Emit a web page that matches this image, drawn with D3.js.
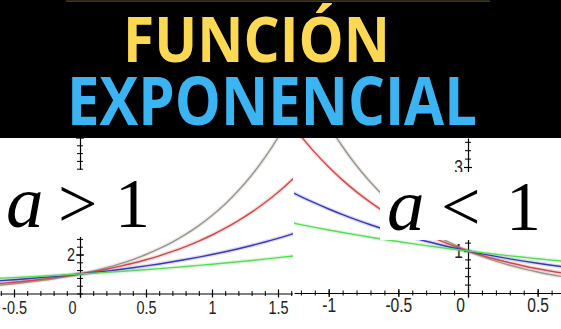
<!DOCTYPE html>
<html>
<head>
<meta charset="utf-8">
<script src="https://cdn.jsdelivr.net/npm/d3@7/dist/d3.min.js"></script>
<style>
html,body{margin:0;padding:0;background:#fff;}
svg{display:block;}
</style>
</head>
<body>
<svg id="c" width="561" height="329"></svg>
<script>
// ---------- DATA ----------
const titleTop = "FUNCIÓN";
const titleBottom = "EXPONENCIAL";
const labelLeft = ["a", ">", "1"];
const labelRight = ["a", "<", "1"];

// left panel (a > 1): sampled curve values
const leftX   = [-0.7,-0.6,-0.5,-0.4,-0.3,-0.2,-0.1,0,0.1,0.2,0.3,0.4,0.5,0.6,0.7,0.8,0.9,1.0,1.1,1.2,1.3,1.4,1.5,1.6,1.7];
const leftA4  = [0.379,0.435,0.5,0.574,0.660,0.758,0.871,1,1.149,1.320,1.516,1.741,2,2.297,2.639,3.031,3.482,4,4.595,5.278,6.063,6.964,8,9.190,10.556];
const leftA3  = [0.464,0.517,0.577,0.644,0.719,0.803,0.896,1,1.116,1.246,1.390,1.552,1.732,1.933,2.158,2.408,2.688,3,3.348,3.737,4.171,4.656,5.196,5.800,6.473];
const leftA2  = [0.616,0.660,0.707,0.758,0.812,0.871,0.933,1,1.072,1.149,1.231,1.320,1.414,1.516,1.625,1.741,1.866,2,2.144,2.297,2.462,2.639,2.828,3.031,3.249];
const leftA15 = [0.753,0.784,0.816,0.850,0.885,0.922,0.960,1,1.041,1.084,1.129,1.176,1.225,1.275,1.328,1.383,1.440,1.5,1.562,1.627,1.694,1.764,1.837,1.913,1.992];
const leftXTicks = [-0.5,0,0.5,1,1.5];
const leftYTicks = [2,4,6,8];
const leftYLabels = [2];

// right panel (a < 1): sampled curve values
const rightX   = [-1.3,-1.2,-1.1,-1.0,-0.9,-0.8,-0.7,-0.6,-0.5,-0.4,-0.3,-0.2,-0.1,0,0.1,0.2,0.3,0.4,0.5,0.6,0.7];
const rightA14 = [6.063,5.278,4.595,4,3.482,3.031,2.639,2.297,2,1.741,1.516,1.320,1.149,1,0.871,0.758,0.660,0.574,0.5,0.435,0.379];
const rightA13 = [4.171,3.737,3.348,3,2.688,2.408,2.158,1.933,1.732,1.552,1.390,1.246,1.116,1,0.896,0.803,0.719,0.644,0.577,0.517,0.464];
const rightA12 = [2.462,2.297,2.144,2,1.866,1.741,1.625,1.516,1.414,1.320,1.231,1.149,1.072,1,0.933,0.871,0.812,0.758,0.707,0.660,0.616];
const rightA23 = [1.694,1.627,1.562,1.5,1.440,1.383,1.328,1.275,1.225,1.176,1.129,1.084,1.041,1,0.960,0.922,0.885,0.850,0.816,0.784,0.753];
const rightXTicks = [-1,-0.5,0,0.5];
const rightYTicks = [1,2,3];
const rightYLabels = [1,3];

const colors = {gray:"#9a948c", red:"#d04848", blue:"#3838b8", green:"#58dc58"};

// ---------- DRAW ----------
const svg = d3.select("#c");
svg.append("rect").attr("width",561).attr("height",329).attr("fill","#fff");
const defs = svg.append("defs");
const fmt = d => String(d);

function panel(cfg){
  const g = svg.append("g");
  const clipId = "clip"+cfg.id;
  defs.append("clipPath").attr("id",clipId).append("rect")
    .attr("x",cfg.px0).attr("y",138).attr("width",cfg.px1-cfg.px0).attr("height",329-138);
  const inner = g.append("g").attr("clip-path",`url(#${clipId})`);
  const x = d3.scaleLinear().domain(cfg.xDom).range([cfg.px0,cfg.px1]);
  const y = d3.scaleLinear().domain(cfg.yDom).range(cfg.yRange);

  // minor x ticks
  const xMinor = d3.range(Math.ceil(cfg.xDom[0]*10), Math.floor(cfg.xDom[1]*10)+1).map(v=>v/10);
  const gxm = inner.append("g").attr("transform",`translate(0,${y(0)})`)
    .call(d3.axisBottom(x).tickValues(xMinor).tickSizeOuter(0).tickFormat(""));
  gxm.select(".domain").remove();
  gxm.selectAll(".tick line").attr("y1",-2.5).attr("y2",2.5).attr("stroke","#000");

  // major x axis
  const gx = inner.append("g").attr("transform",`translate(0,${y(0)})`)
    .call(d3.axisBottom(x).tickValues(cfg.xTicks).tickSizeOuter(0).tickFormat(fmt));
  gx.select(".domain").attr("stroke","#000").attr("stroke-width",1.2);
  gx.selectAll(".tick line").attr("y1",-4).attr("y2",4).attr("stroke","#000").attr("stroke-width",1.2);
  gx.selectAll(".tick text")
    .attr("font-family","'Liberation Sans', Arial, sans-serif")
    .attr("font-size",cfg.fs).attr("fill","#222")
    .attr("y",cfg.labOff).attr("dy","0.71em")
    .attr("transform","scale(0.8,1)")
    .attr("x",d=>d===0? -8/0.8 : 0);

  // minor y ticks
  const yMinor = d3.range(0, cfg.yDom[1], cfg.yMinorStep);
  const gym = inner.append("g").attr("transform",`translate(${x(0)},0)`)
    .call(d3.axisLeft(y).tickValues(yMinor).tickSizeOuter(0).tickFormat(""));
  gym.select(".domain").remove();
  gym.selectAll(".tick line").attr("x1",-3).attr("x2",3).attr("stroke","#000");

  const gy = inner.append("g").attr("transform",`translate(${x(0)},0)`)
    .call(d3.axisLeft(y).tickValues(cfg.yTicks).tickSizeOuter(0)
      .tickFormat(d => cfg.yLabels.includes(d) ? fmt(d) : ""));
  gy.select(".domain").attr("stroke","#000").attr("stroke-width",1.2);
  gy.selectAll(".tick line").attr("x1",-4).attr("x2",4).attr("stroke","#000").attr("stroke-width",1.2);
  gy.selectAll(".tick text")
    .attr("font-family","'Liberation Sans', Arial, sans-serif")
    .attr("font-size",cfg.fs).attr("fill","#222")
    .attr("x",-5/0.8).attr("transform","scale(0.8,1)");

  const line = d3.line().x((d,i)=>x(cfg.xs[i])).y(d=>y(d)).curve(d3.curveMonotoneX);
  cfg.series.forEach(s=>{
    inner.append("path").attr("d",line(s.v)).attr("fill","none")
      .attr("stroke",s.c).attr("stroke-opacity",0.18).attr("stroke-width",4);
  });
  cfg.series.forEach(s=>{
    inner.append("path").attr("d",line(s.v)).attr("fill","none")
      .attr("stroke",s.c).attr("stroke-width",1.4);
  });
  return g;
}

panel({
  id:"L", px0:0, px1:293, xDom:[-80/132, 213/132], xs:leftX,
  yDom:[-0.18, 8], yRange:[293.5+0.18*19.5, 293.5-8*19.5],
  xTicks:leftXTicks, yTicks:leftYTicks, yLabels:leftYLabels, yMinorStep:0.4, fs:18, labOff:8,
  series:[{v:leftA4,c:colors.gray},{v:leftA3,c:colors.red},{v:leftA2,c:colors.blue},{v:leftA15,c:colors.green}]
});
panel({
  id:"R", px0:294, px1:561, xDom:[(294-468)/139.3,(561-468)/139.3], xs:rightX,
  yDom:[-0.1, 3.69], yRange:[293+0.1*42, 293-3.69*42],
  xTicks:rightXTicks, yTicks:rightYTicks, yLabels:rightYLabels, yMinorStep:0.2, fs:19.5, labOff:5,
  series:[{v:rightA14,c:colors.gray},{v:rightA13,c:colors.red},{v:rightA12,c:colors.blue},{v:rightA23,c:colors.green}]
});

// "a > 1" and "a < 1" labels with white boxes
function mathLabel(box, parts, pos, base, aSize){
  svg.append("rect").attr("x",box[0]).attr("y",box[1]).attr("width",box[2]).attr("height",box[3]).attr("fill","#fff");
  parts.forEach((t,i)=>{
    svg.append("text").text(t)
      .attr("x",pos[i]).attr("y",base)
      .attr("font-family","'Liberation Serif','Times New Roman',serif")
      .attr("font-style",i===0?"italic":"normal")
      .attr("font-size",i===0?aSize:70)
      .attr("fill","#000");
  });
}
mathLabel([0,170,146,67], labelLeft, [6,58,115], 227, 75);
mathLabel([380,172,165,68], labelRight, [387,441,506], 230, 75);

// black title band
svg.append("rect").attr("x",0).attr("y",0).attr("width",561).attr("height",138).attr("fill","#000");
svg.append("rect").attr("x",66).attr("y",0.6).attr("width",424).attr("height",1).attr("fill","#6b5a2a");
svg.append("text").text(titleTop)
  .attr("x",123).attr("y",62)
  .attr("textLength",267).attr("lengthAdjust","spacingAndGlyphs")
  .attr("font-family","'Open Sans', sans-serif").attr("font-weight",700)
  .attr("font-size",63).attr("fill","#fdd853");
svg.append("text").text(titleBottom)
  .attr("x",67).attr("y",125)
  .attr("textLength",410).attr("lengthAdjust","spacingAndGlyphs")
  .attr("font-family","'Open Sans', sans-serif").attr("font-weight",700)
  .attr("font-size",66).attr("fill","#3ab4f2");
</script>
</body>
</html>
